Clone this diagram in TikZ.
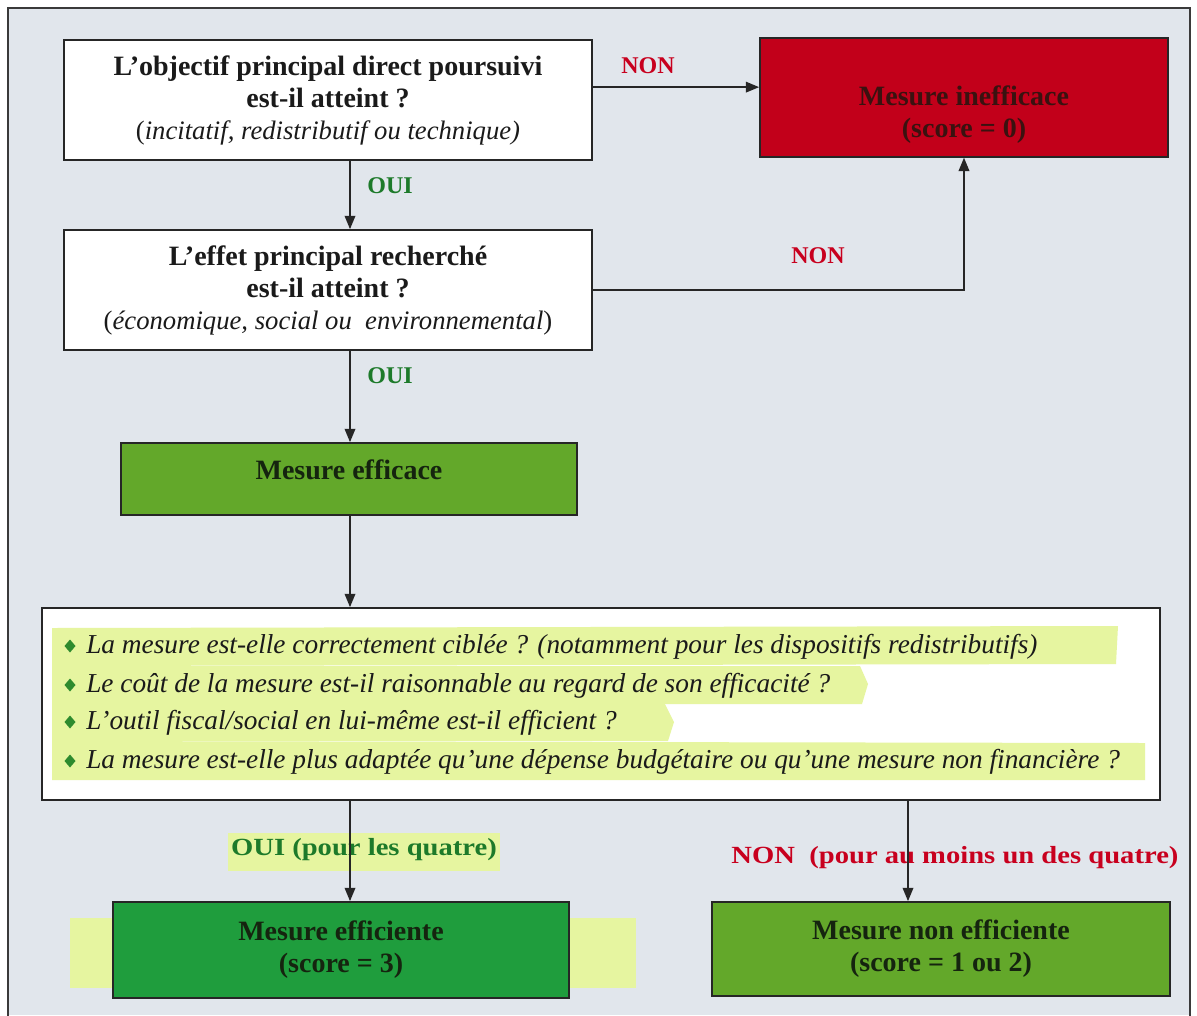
\documentclass[tikz,border=0pt]{standalone}
\usepackage{fontspec}
\setmainfont{Liberation Serif}
\newfontfamily\widefam[FakeStretch=1.16]{Liberation Serif}
\usetikzlibrary{arrows.meta,calc}
\definecolor{bg}{HTML}{E1E6EC}
\definecolor{framec}{HTML}{3A3A3A}
\definecolor{redbox}{HTML}{C2001A}
\definecolor{greenA}{HTML}{63A82A}
\definecolor{greenB}{HTML}{1F9D3D}
\definecolor{txtc}{HTML}{1A1A1A}
\definecolor{gtxt}{HTML}{15240F}
\definecolor{rtxt}{HTML}{3A1210}
\definecolor{ouic}{HTML}{1D7A2A}
\definecolor{nonc}{HTML}{C8001E}
\definecolor{hl}{HTML}{E6F5A0}
\definecolor{bulc}{HTML}{2E8B2E}
\newcommand\subline{\mdseries\fontsize{20}{22}\selectfont}
\tikzset{
  box/.style={draw=black!85, line width=1.3pt, inner sep=0pt, align=center, font=\fontsize{21}{24}\selectfont\bfseries},
  arr/.style={line width=1.1pt, draw=black!85, -{Triangle[length=10pt,width=8pt]}},
  lbl/.style={font=\fontsize{18}{20}\selectfont\bfseries, inner sep=0pt},
  widelbl/.style={font=\widefam\fontsize{18.5}{20}\selectfont\bfseries, inner sep=0pt},
  bul/.style={font=\fontsize{20.5}{22}\selectfont\itshape, text=txtc, inner sep=0pt},
}
\begin{document}
\begin{tikzpicture}[x=0.75pt,y=-0.75pt]
\useasboundingbox (0,0) rectangle (1197,1015);
\fill[white] (0,0) rectangle (1197,1015);
\fill[bg] (8,8) rectangle (1190,1015);
\draw[framec, line width=1.5pt] (8,1016) -- (8,8) -- (1190,8) -- (1190,1016);

% question boxes
\node[box, fill=white, text=txtc, minimum width=396pt, minimum height=90pt] (q1) at (328,100)
  {L’objectif principal direct poursuivi\\
   est-il atteint ?\\
   {\subline (\textit{incitatif, redistributif ou technique)}}};
\node[box, fill=redbox, text=rtxt, minimum width=306pt, minimum height=89pt] (red) at (964,97.5)
  {\rule{0pt}{40pt}Mesure inefficace\\ (score = 0)};
\node[box, fill=white, text=txtc, minimum width=396pt, minimum height=90pt] (q2) at (328,290)
  {L’effet principal recherché\\
   est-il atteint ?\\
   {\subline (\textit{économique, social ou\ \ environnemental})}};
\node[box, fill=greenA, text=gtxt, minimum width=342pt, minimum height=54pt] (eff) at (349,479)
  {Mesure efficace\rule[-14pt]{0pt}{1pt}};

% criteria box
\node[box, fill=white, minimum width=838.5pt, minimum height=144pt] (crit) at (601,704) {};
\fill[hl] (52,628) -- (1118,626) -- (1116,664) -- (52,666) -- cycle;
\fill[hl] (52,666) -- (860,666) -- (868,684) -- (862,704) -- (52,704) -- cycle;
\fill[hl] (52,704) -- (665,704) -- (674,722) -- (668,741) -- (52,741) -- cycle;
\fill[hl] (52,741) -- (1145,743) -- (1145,780) -- (52,780) -- cycle;
\foreach \yy in {646,685,722,761}{
  \fill[bulc] (70,\yy-6.5) -- (75.5,\yy) -- (70,\yy+6.5) -- (64.5,\yy) -- cycle;
}
\node[bul, anchor=base west] (c1) at (86,653) {La mesure est-elle correctement ciblée ? (notamment pour les dispositifs redistributifs)};
\node[bul, anchor=base west] (c2) at (86,692) {Le coût de la mesure est-il raisonnable au regard de son efficacité ?};
\node[bul, anchor=base west] (c3) at (86,729) {L’outil fiscal/social en lui-même est-il efficient ?};
\node[bul, anchor=base west] (c4) at (86,768) {La mesure est-elle plus adaptée qu’une dépense budgétaire ou qu’une mesure non financière ?};

% highlights behind bottom labels / box
\fill[hl] (228,833) rectangle (500,871);
\fill[hl] (70,918) rectangle (636,988);

\node[box, fill=greenB, text=gtxt, minimum width=342pt, minimum height=72pt] (effi) at (341,950)
  {Mesure efficiente\\ (score = 3)};
\node[box, fill=greenA, text=gtxt, minimum width=343.5pt, minimum height=70.5pt] (neffi) at (941,949)
  {Mesure non efficiente\\ (score = 1 ou 2)};

% connectors
\coordinate (p1) at ($(q1.north east)+(0,48)$);
\draw[arr] (p1) -- (p1 -| red.west);
\coordinate (cx) at (350,0);
\coordinate (cx2) at (908,0);
\draw[arr] (q1.south -| cx) -- (q2.north -| cx);
\draw[arr] (q2.east) -| (red.south);
\draw[arr] (q2.south -| cx) -- (eff.north -| cx);
\draw[arr] (eff.south -| cx) -- (crit.north -| cx);

% labels
\node[lbl, text=nonc] (non1) at (648,66) {NON};
\node[lbl, text=ouic] (oui1) at (390,186) {OUI};
\node[lbl, text=nonc] (non2) at (818,256) {NON};
\node[lbl, text=ouic] (oui2) at (390,376) {OUI};
\node[widelbl, text=ouic] (oui3) at (364,850) {OUI (pour les quatre)};
\node[widelbl, text=nonc] (non3) at (955,858) {NON\ \ (pour au moins un des quatre)};

\draw[arr] (crit.south -| cx) -- (effi.north -| cx);
\draw[arr] (crit.south -| cx2) -- (neffi.north -| cx2);
\end{tikzpicture}
\end{document}
